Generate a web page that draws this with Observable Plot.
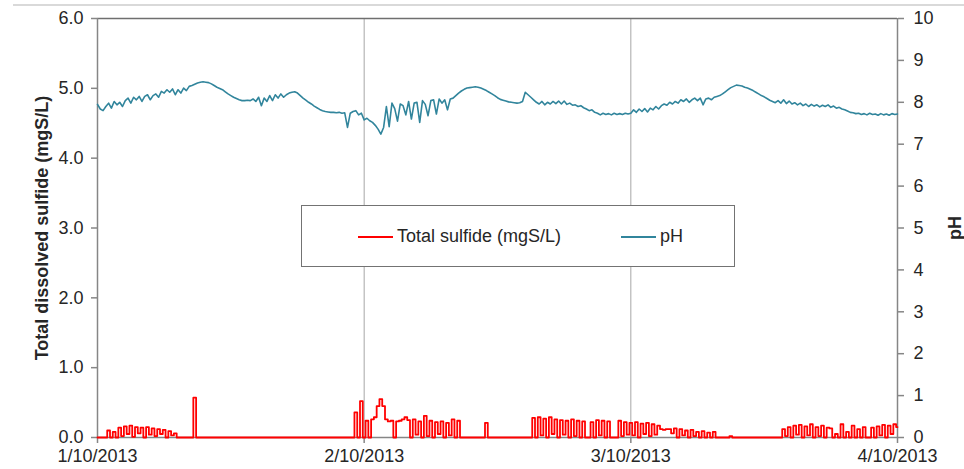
<!DOCTYPE html>
<html>
<head>
<meta charset="utf-8">
<script src="https://cdn.jsdelivr.net/npm/d3@7"></script>
<script src="https://cdn.jsdelivr.net/npm/@observablehq/plot@0.6"></script>
<style>
  html, body { margin: 0; padding: 0; background: #fff; }
  #wrap { position: relative; width: 964px; height: 469px; overflow: hidden; font-family: "Liberation Sans", Arial, sans-serif; }
  #wrap svg { position: absolute; left: 0; top: 0; }
  #divider { position: absolute; left: 13px; right: 0; top: 4px; border-top: 2px solid #d9d9d9; }
  #legend { position: absolute; left: 301px; top: 205px; width: 432px; height: 60px; border: 1.5px solid #737373; background: #fff; }
  #legend .sw { position: absolute; height: 0; width: 35px; top: 30px; border-top: 2px solid; }
  #legend .lbl { position: absolute; top: 20px; font-size: 18px; color: #262626; white-space: nowrap; }
</style>
</head>
<body>
<div id="wrap">
  <div id="divider"></div>
</div>
<script>
// ---- data (readings every 15 minutes from 1/10/2013 00:00) ----
const stepHours = 0.25;
const seriesNames = ["Total sulfide (mgS/L)", "pH"];
const seriesColors = ["#ff0000", "#31859c"];

// Total sulfide, mgS/L (left axis)
const sulfide = [
  0,0,0,0,0.10,0,0.08,0,
  0.14,0.02,0.16,0.05,0.17,0.01,0.15,0.06,
  0.14,0,0.15,0.04,0.13,0.02,0.12,0.05,
  0.11,0,0.09,0.03,0.06,0,0,0,
  0,0,0,0.57,0,0,0,0,
  0,0,0,0,0,0,0,0,
  0,0,0,0,0,0,0,0,
  0,0,0,0,0,0,0,0,
  0,0,0,0,0,0,0,0,
  0,0,0,0,0,0,0,0,
  0,0,0,0,0,0,0,0,
  0,0,0,0,0,0.36,0,0.52,
  0,0.24,0,0.26,0.29,0.45,0.55,0.45,
  0.26,0.23,0.24,0,0.23,0.24,0.26,0.29,
  0.25,0,0.26,0.04,0.23,0,0.31,0.02,
  0.24,0,0.22,0.05,0.23,0,0.21,0.03,
  0.26,0,0.24,0,0,0,0,0,
  0,0,0,0,0.21,0,0,0,
  0,0,0,0,0,0,0,0,
  0,0,0,0,0,0.28,0,0.29,
  0.03,0.27,0,0.29,0.05,0.26,0,0.25,
  0.04,0.24,0,0.26,0.02,0.24,0,0.23,
  0,0,0.22,0,0.25,0.03,0.24,0,
  0.23,0,0,0,0.24,0.02,0.22,0.04,
  0.21,0.03,0.22,0,0.20,0.05,0.21,0.02,
  0.19,0.04,0.17,0.12,0.11,0.12,0.12,0.06,
  0.13,0,0.12,0.03,0.10,0,0.11,0.02,
  0.08,0,0.09,0,0.07,0,0.08,0,
  0,0,0,0,0.02,0,0,0,
  0,0,0,0,0,0,0,0,
  0,0,0,0,0,0,0,0.12,
  0.02,0.15,0,0.17,0.04,0.18,0,0.16,
  0.03,0.19,0,0.15,0.02,0.17,0,0.14,
  0.13,0,0.05,0,0.19,0,0.08,0,
  0.17,0,0.12,0,0.15,0,0,0.14,
  0,0.16,0.03,0.18,0,0.17,0.05,0.19,
  0.15
];

// pH (right axis)
const pH = [
  7.95,7.84,7.80,7.90,7.98,7.86,8.02,7.94,
  8.00,7.90,8.04,8.10,7.98,8.12,8.06,8.14,
  8.02,8.14,8.18,8.06,8.16,8.20,8.12,8.26,
  8.22,8.30,8.24,8.32,8.18,8.30,8.22,8.34,
  8.28,8.38,8.40,8.43,8.46,8.48,8.49,8.48,
  8.47,8.44,8.40,8.36,8.33,8.30,8.25,8.20,
  8.16,8.12,8.09,8.06,8.04,8.04,8.05,8.04,
  8.08,8.02,8.12,7.92,8.10,8.02,8.16,8.04,
  8.18,8.10,8.20,8.12,8.18,8.22,8.24,8.25,
  8.22,8.16,8.10,8.05,8.00,7.96,7.91,7.87,
  7.83,7.80,7.78,7.77,7.76,7.76,7.75,7.76,
  7.74,7.75,7.40,7.74,7.78,7.80,7.70,7.74,
  7.58,7.62,7.56,7.52,7.45,7.36,7.24,7.40,
  7.90,7.42,7.98,7.85,7.55,7.96,7.92,7.70,
  8.02,7.60,7.98,8.00,7.52,8.04,7.95,7.68,
  8.04,8.06,7.72,8.08,7.98,8.06,7.82,8.08,
  8.10,8.16,8.22,8.27,8.31,8.34,8.35,8.36,
  8.37,8.36,8.34,8.31,8.28,8.24,8.20,8.16,
  8.11,8.07,8.05,8.03,8.01,8.00,7.99,7.98,
  7.99,8.02,8.24,8.18,8.12,8.06,8.00,7.96,
  8.02,7.94,8.00,7.96,8.02,7.97,8.03,7.96,
  8.03,7.95,7.98,7.93,7.94,7.90,7.92,7.87,
  7.84,7.80,7.82,7.76,7.74,7.70,7.74,7.71,
  7.73,7.70,7.74,7.71,7.73,7.71,7.74,7.72,
  7.74,7.82,7.76,7.84,7.78,7.85,7.77,7.86,
  7.82,7.90,7.84,7.92,7.96,7.93,8.00,7.96,
  8.02,7.98,8.06,8.02,8.08,8.00,8.06,8.10,
  8.04,8.10,7.94,8.08,8.10,8.06,8.12,8.14,
  8.16,8.20,8.25,8.30,8.35,8.38,8.41,8.40,
  8.39,8.36,8.34,8.31,8.28,8.24,8.20,8.16,
  8.13,8.09,8.05,8.02,7.99,8.04,7.98,8.06,
  7.97,8.03,7.96,7.99,7.94,7.98,7.92,7.96,
  7.90,7.95,7.91,7.94,7.89,7.93,7.90,7.94,
  7.88,7.91,7.86,7.88,7.84,7.82,7.79,7.76,
  7.75,7.73,7.74,7.71,7.73,7.70,7.74,7.71,
  7.72,7.69,7.73,7.70,7.72,7.69,7.73,7.71,
  7.72
];

// axes
const leftTicks = [0, 1, 2, 3, 4, 5, 6];
const rightTicks = [0, 1, 2, 3, 4, 5, 6, 7, 8, 9, 10];
const dayLabels = ["1/10/2013", "2/10/2013", "3/10/2013", "4/10/2013"];
const leftTitle = "Total dissolved sulfide (mgS/L)";
const rightTitle = "pH";

// ---- build ----
const t0 = Date.UTC(2013, 9, 1);
const dayTicks = dayLabels.map((_, i) => new Date(t0 + i * 864e5));
const leftMax = 6, rightMax = 10, k = leftMax / rightMax;
const toDate = i => new Date(t0 + i * stepHours * 3600e3);
const sulfideRows = sulfide.map((v, i) => ({t: toDate(i), v}));
const pHRows = pH.map((v, i) => ({t: toDate(i), v}));
const axisColor = "#868686";
const textColor = "#262626";

const chart = Plot.plot({
  width: 964,
  height: 469,
  marginLeft: 97,
  marginRight: 67,
  marginTop: 18,
  marginBottom: 32,
  style: {fontFamily: "'Liberation Sans', Arial, sans-serif", fontSize: "18px", color: textColor, background: "transparent", overflow: "visible"},
  x: {type: "utc", domain: [dayTicks[0], dayTicks[dayTicks.length - 1]]},
  y: {domain: [0, leftMax]},
  marks: [
    Plot.ruleX(dayTicks.slice(1, -1), {stroke: "#a6a6a6", strokeWidth: 1}),
    Plot.ruleY([leftMax], {stroke: "#6f6f6f", strokeWidth: 1.5}),
    Plot.ruleY([0], {stroke: axisColor, strokeWidth: 1.5}),
    Plot.ruleX([dayTicks[0]], {stroke: axisColor, strokeWidth: 1.5}),
    Plot.ruleX([dayTicks[dayTicks.length - 1]], {stroke: axisColor, strokeWidth: 1.5}),
    Plot.axisY(leftTicks, {anchor: "left", tickSize: 6, tickPadding: 8, stroke: axisColor, strokeWidth: 1.5, label: null, tickFormat: d => d.toFixed(1), fill: textColor}),
    Plot.axisY(rightTicks.map(d => d * k), {anchor: "right", tickSize: 6, tickPadding: 10, stroke: axisColor, strokeWidth: 1.5, label: null, tickFormat: d => String(Math.round(d / k)), fill: textColor}),
    Plot.axisX(dayTicks, {anchor: "bottom", tickSize: 6, tickPadding: 6, stroke: axisColor, strokeWidth: 1.5, label: null, fill: textColor,
      tickFormat: d => dayLabels[dayTicks.findIndex(t => +t === +d)]}),
    Plot.line(sulfideRows, {x: "t", y: "v", stroke: seriesColors[0], strokeWidth: 1.8, curve: "step"}),
    Plot.line(pHRows, {x: "t", y: d => d.v * k, stroke: seriesColors[1], strokeWidth: 1.6}),
    Plot.text([leftTitle], {frameAnchor: "left", dx: -55, rotate: -90, textAnchor: "middle", fontWeight: "bold", fontSize: 18, fill: textColor}),
    Plot.text([rightTitle], {frameAnchor: "right", dx: 58, rotate: -90, textAnchor: "middle", fontWeight: "bold", fontSize: 18, fill: textColor})
  ]
});

const wrap = document.getElementById("wrap");
wrap.appendChild(chart);

// legend
const legend = document.createElement("div");
legend.id = "legend";
const items = [{sw: 56, lbl: 95}, {sw: 319, lbl: 358}];
seriesNames.forEach((name, i) => {
  const sw = document.createElement("div");
  sw.className = "sw";
  sw.style.left = items[i].sw + "px";
  sw.style.borderTopColor = seriesColors[i];
  const lb = document.createElement("div");
  lb.className = "lbl";
  lb.style.left = items[i].lbl + "px";
  lb.textContent = name;
  legend.appendChild(sw);
  legend.appendChild(lb);
});
wrap.appendChild(legend);
</script>
</body>
</html>
